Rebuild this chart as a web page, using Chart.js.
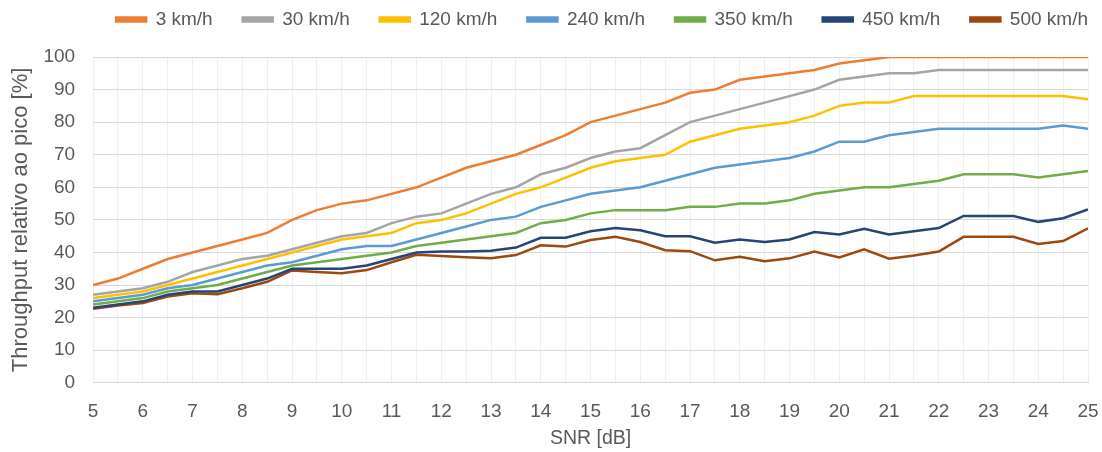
<!DOCTYPE html>
<html>
<head>
<meta charset="utf-8">
<script src="https://cdn.jsdelivr.net/npm/chart.js@4/dist/chart.umd.min.js"></script>
<style>
html,body{margin:0;padding:0;background:#fff;}
#wrap{width:1102px;height:452px;position:relative;}
</style>
</head>
<body>
<div id="wrap"><canvas id="c" width="1102" height="452"></canvas></div>
<script>
const snr = [5,5.5,6,6.5,7,7.5,8,8.5,9,9.5,10,10.5,11,11.5,12,12.5,13,13.5,14,14.5,15,15.5,16,16.5,17,17.5,18,18.5,19,19.5,20,20.5,21,21.5,22,22.5,23,23.5,24,24.5,25];
const seriesNames = ['3 km/h','30 km/h','120 km/h','240 km/h','350 km/h','450 km/h','500 km/h'];
const v3   = [30,32,35,38,40,42,44,46,50,53,55,56,58,60,63,66,68,70,73,76,80,82,84,86,89,90,93,94,95,96,98,99,100,100,100,100,100,100,100,100,100];
const v30  = [27,28,29,31,34,36,38,39,41,43,45,46,49,51,52,55,58,60,64,66,69,71,72,76,80,82,84,86,88,90,93,94,95,95,96,96,96,96,96,96,96];
const v120 = [26,27,28,30,32,34,36,38,40,42,44,45,46,49,50,52,55,58,60,63,66,68,69,70,74,76,78,79,80,82,85,86,86,88,88,88,88,88,88,88,87];
const v240 = [25,26,27,29,30,32,34,36,37,39,41,42,42,44,46,48,50,51,54,56,58,59,60,62,64,66,67,68,69,71,74,74,76,77,78,78,78,78,78,79,78];
const v350 = [24,25,26,28,29,30,32,34,36,37,38,39,40,42,43,44,45,46,49,50,52,53,53,53,54,54,55,55,56,58,59,60,60,61,62,64,64,64,63,64,65];
const v450 = [23,24,25,27,28,28,30,32,35,35,35,36,38,40,40.3,40.3,40.5,41.5,44.5,44.5,46.5,47.5,46.8,45,45,43,44,43.2,44,46.3,45.5,47.3,45.5,46.5,47.5,51.2,51.2,51.2,49.4,50.5,53.2];
const v500 = [22.7,23.7,24.5,26.5,27.5,27.2,29,31,34.5,34,33.6,34.6,37,39.3,38.9,38.5,38.2,39.2,42.2,41.8,43.8,44.8,43.2,40.7,40.4,37.6,38.7,37.3,38.2,40.3,38.5,41,38.1,39.1,40.3,44.8,44.8,44.8,42.6,43.5,47.4];
const colors = ['#ED7D31','#A5A5A5','#FFC000','#5B9BD5','#70AD47','#264478','#9E480E'];
const allValues = [v3,v30,v120,v240,v350,v450,v500];

const FONT = "'Liberation Sans',Arial,sans-serif";
const TXT = '#595959';
const datasets = allValues.map((vals,i)=>({
  label: seriesNames[i],
  data: snr.map((x,j)=>({x:x,y:vals[j]})),
  borderColor: colors[i],
  backgroundColor: colors[i],
  borderWidth: 2.5,
  pointRadius: 0,
  tension: 0,
  fill: false
}));

// Extra space below the legend row
const legendSpace = {
  id: 'legendSpace',
  beforeLayout(chart) {
    const lg = chart.legend;
    if (lg && !lg._patched) {
      const orig = lg.fit;
      lg.fit = function () { orig.call(this); this.height += 18; };
      lg._patched = true;
    }
  }
};

new Chart(document.getElementById('c'), {
  type: 'line',
  data: { datasets },
  plugins: [legendSpace],
  options: {
    responsive: false,
    animation: false,
    layout: { padding: { left: 8, right: -16, top: -20, bottom: 2 } },
    plugins: {
      legend: {
        position: 'top',
        align: 'end',
        labels: {
          boxWidth: 30, boxHeight: 4, padding: 30,
          color: TXT,
          font: { family: FONT, size: 19 }
        }
      },
      tooltip: { enabled: false }
    },
    scales: {
      x: {
        type: 'linear', min: 5, max: 25,
        afterFit: s => { s.paddingRight = 14; },
        ticks: {
          stepSize: 0.5, autoSkip: false, maxRotation: 0,
          color: TXT, font: { family: FONT, size: 19 }, padding: 18,
          callback: v => Number.isInteger(v) ? String(v) : ''
        },
        grid: { color: '#EFEFEF', drawTicks: false },
        border: { color: '#D9D9D9' },
        title: { display: true, text: 'SNR [dB]', color: TXT, font: { family: FONT, size: 19.5 }, padding: { top: -15, bottom: 0 } }
      },
      y: {
        min: 0, max: 100,
        ticks: { stepSize: 10, color: TXT, font: { family: FONT, size: 19 }, padding: 18 },
        grid: { color: '#D9D9D9', drawTicks: false },
        border: { display: false },
        title: { display: true, text: 'Throughput relativo ao pico [%]', color: TXT, font: { family: FONT, size: 22 }, padding: { top: 0, bottom: -9 } }
      }
    }
  }
});
</script>
</body>
</html>
